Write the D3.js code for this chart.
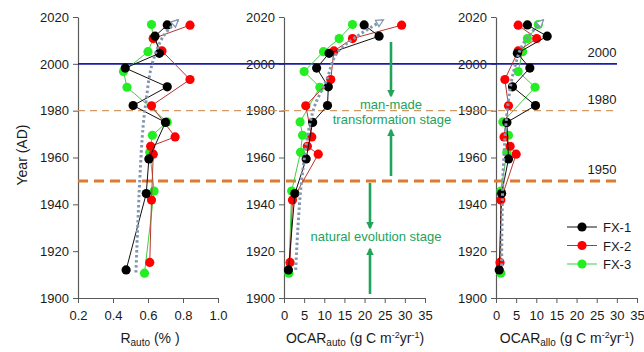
<!DOCTYPE html>
<html>
<head>
<meta charset="utf-8">
<script src="https://cdn.jsdelivr.net/npm/d3@7"></script>
<style>
  html, body { margin: 0; padding: 0; background: #fff; }
  svg { display: block; font-family: "Liberation Sans", Arial, sans-serif; }
</style>
</head>
<body>
<svg id="chart" width="644" height="352"></svg>
<script>
// Sampling years of each core (AD), shared by all three panels
const yearsFX1 = [2016.6, 2011.8, 2004.5, 1998.2, 1990.2, 1982.2, 1975.0, 1959.4, 1944.6, 1912.0];
const yearsFX2 = [2016.5, 2010.8, 2005.5, 1993.3, 1982.1, 1968.8, 1964.8, 1961.4, 1941.8, 1915.2];
const yearsFX3 = [2016.8, 2010.8, 2005.2, 1996.7, 1990.0, 1975.2, 1969.5, 1962.2, 1945.7, 1910.6];

// R_auto (%)
const rautoFX1 = [0.71, 0.64, 0.665, 0.47, 0.71, 0.515, 0.70, 0.605, 0.59, 0.475];
const rautoFX2 = [0.84, 0.63, 0.68, 0.84, 0.62, 0.755, 0.615, 0.63, 0.62, 0.61];
const rautoFX3 = [0.62, 0.63, 0.60, 0.46, 0.48, 0.71, 0.625, 0.61, 0.635, 0.58];

// OCAR_auto (g C m-2 yr-1)
const autoFX1 = [19.9, 23.6, 11.2, 8.1, 11.0, 10.8, 7.1, 5.5, 2.7, 1.1];
const autoFX2 = [29.2, 17.0, 12.4, 11.6, 5.4, 6.9, 5.8, 8.5, 2.1, 1.5];
const autoFX3 = [17.0, 13.7, 9.8, 5.0, 8.9, 4.0, 4.6, 4.1, 1.9, 1.2];

// OCAR_allo (g C m-2 yr-1)
const alloFX1 = [7.8, 12.7, 5.3, 8.4, 4.1, 9.8, 2.7, 3.1, 1.4, 0.8];
const alloFX2 = [5.5, 10.1, 5.5, 2.2, 3.1, 2.0, 3.5, 5.0, 1.2, 1.0];
const alloFX3 = [10.5, 7.8, 6.6, 5.5, 9.7, 1.7, 3.1, 2.7, 1.2, 1.2];

// Hand-drawn trend curves
const trendRautoYears = [1910.9, 1950.6, 1973.3, 1984.7, 1998.9, 2011.6, 2018.7];
const trendRautoVals  = [0.531, 0.553, 0.572, 0.590, 0.620, 0.686, 0.772];
const trendAutoYears  = [1912.0, 1950.6, 1980.4, 1993.2, 2004.6, 2011.6, 2018.7];
const trendAutoVals   = [2.9, 4.4, 7.3, 10.6, 13.1, 18.0, 24.6];
const trendAlloYears  = [1913.7, 1955.0, 1984.7, 1998.9, 2008.8, 2018.7];
const trendAlloVals   = [1.4, 1.8, 3.1, 4.7, 6.8, 11.7];

// Axis ticks
const yearTicks = [1900, 1920, 1940, 1960, 1980, 2000, 2020];
const rautoTicks = [0.2, 0.4, 0.6, 0.8, 1.0];
const ocarTicks = [0, 5, 10, 15, 20, 25, 30, 35];

// Reference years
const refYears = [2000, 1980, 1950];
const seriesNames = ["FX-1", "FX-2", "FX-3"];

const svg = d3.select("#chart");
const y = d3.scaleLinear().domain([1900, 2020]).range([298, 17]);

const xR = d3.scaleLinear().domain([0.2, 1.0]).range([78, 218]);
const xA = d3.scaleLinear().domain([0, 35]).range([284, 425]);
const xL = d3.scaleLinear().domain([0, 35]).range([496, 637]);

const axisColor = "#5a5a5a";
const colors = {
  "FX-1": { fill: "#000000", line: "#111111" },
  "FX-2": { fill: "#ff0000", line: "#b9362e" },
  "FX-3": { fill: "#22ee22", line: "#3fcf3f" }
};

function styleAxis(g) {
  g.selectAll("path.domain").attr("stroke", axisColor).attr("stroke-width", 1.2);
  g.selectAll(".tick line").attr("stroke", axisColor).attr("stroke-width", 1);
  g.selectAll(".tick text").attr("fill", "#1a1a1a").attr("font-size", 13)
    .attr("font-family", "Liberation Sans, Arial, sans-serif");
}

// Axes for three panels
[[xR, rautoTicks, d3.format(".1f")], [xA, ocarTicks, d3.format("d")], [xL, ocarTicks, d3.format("d")]]
  .forEach(([xs, ticks, fmt]) => {
    const gy = svg.append("g").attr("transform", `translate(${xs.range()[0]},0)`)
      .call(d3.axisLeft(y).tickValues(yearTicks).tickFormat(d3.format("d")).tickSize(5).tickSizeOuter(0).tickPadding(4));
    styleAxis(gy);
    const gx = svg.append("g").attr("transform", `translate(0,${y(1900)})`)
      .call(d3.axisBottom(xs).tickValues(ticks).tickFormat(fmt).tickSize(5).tickSizeOuter(0).tickPadding(8));
    styleAxis(gx);
  });

// Reference lines spanning all panels
const refX0 = 78, refX1 = 617;
svg.append("line").attr("x1", refX0).attr("x2", refX1).attr("y1", y(2000)).attr("y2", y(2000))
  .attr("stroke", "#1c1ca8").attr("stroke-width", 1.6);
svg.append("line").attr("x1", refX0).attr("x2", refX1).attr("y1", y(1980)).attr("y2", y(1980))
  .attr("stroke", "#d39a68").attr("stroke-width", 1.4).attr("stroke-dasharray", "7,5");
svg.append("line").attr("x1", refX0).attr("x2", refX1).attr("y1", y(1950)).attr("y2", y(1950))
  .attr("stroke", "#e07a33").attr("stroke-width", 3).attr("stroke-dasharray", "10,6");

refYears.forEach(yr => {
  svg.append("text").attr("x", 602).attr("y", y(yr) - 7).attr("text-anchor", "middle")
    .attr("font-size", 13).attr("fill", "#1a1a1a").text(yr);
});

// Stage annotations
const stageColor = "#22a35b";
const defs = svg.append("defs");
defs.append("marker").attr("id", "stageHead")
  .attr("viewBox", "0 0 10 10").attr("refX", 8).attr("refY", 5)
  .attr("markerWidth", 3).attr("markerHeight", 3).attr("orient", "auto")
  .append("path").attr("d", "M0,0 L10,5 L0,10 Z").attr("fill", stageColor);

function stageArrow(x, yFrom, yTo) {
  svg.append("line").attr("x1", x).attr("x2", x).attr("y1", yFrom).attr("y2", yTo)
    .attr("stroke", stageColor).attr("stroke-width", 2.6).attr("marker-end", "url(#stageHead)");
}
stageArrow(391, 42, 96);
stageArrow(391, 176, 130);
stageArrow(370, 183, 228);
stageArrow(370, 294, 249);

svg.append("text").attr("x", 391).attr("y", 109).attr("text-anchor", "middle")
  .attr("font-size", 13).attr("fill", stageColor).text("man-made");
svg.append("text").attr("x", 392).attr("y", 124).attr("text-anchor", "middle")
  .attr("font-size", 13).attr("fill", stageColor).text("transformation stage");
svg.append("text").attr("x", 376).attr("y", 241).attr("text-anchor", "middle")
  .attr("font-size", 13).attr("fill", stageColor).text("natural evolution stage");

// Data series
const panels = [
  { x: xR, series: { "FX-1": rautoFX1, "FX-2": rautoFX2, "FX-3": rautoFX3 } },
  { x: xA, series: { "FX-1": autoFX1, "FX-2": autoFX2, "FX-3": autoFX3 } },
  { x: xL, series: { "FX-1": alloFX1, "FX-2": alloFX2, "FX-3": alloFX3 } }
];
const yearsOf = { "FX-1": yearsFX1, "FX-2": yearsFX2, "FX-3": yearsFX3 };
const drawOrder = ["FX-3", "FX-2", "FX-1"];

panels.forEach(p => {
  drawOrder.forEach(name => {
    const pts = yearsOf[name].map((yr, i) => ({ yr, v: p.series[name][i] }));
    const line = d3.line().x(d => p.x(d.v)).y(d => y(d.yr));
    svg.append("path").datum(pts).attr("d", line).attr("fill", "none")
      .attr("stroke", colors[name].line).attr("stroke-width", 1);
    svg.append("g").selectAll("circle").data(pts).join("circle")
      .attr("cx", d => p.x(d.v)).attr("cy", d => y(d.yr)).attr("r", 4.6)
      .attr("fill", colors[name].fill);
  });
});

// Trend curves with open triangular arrowheads
const trendColor = "#8497b0";
defs.append("marker").attr("id", "trendHead")
  .attr("viewBox", "0 0 12 12").attr("refX", 10).attr("refY", 6)
  .attr("markerWidth", 3.2).attr("markerHeight", 3.2).attr("orient", "auto")
  .attr("markerUnits", "strokeWidth")
  .append("path").attr("d", "M1.5,1.5 L10.5,6 L1.5,10.5 Z").attr("fill", "#ffffff")
  .attr("stroke", trendColor).attr("stroke-width", 1.6).attr("stroke-linejoin", "miter");

[[xR, trendRautoYears, trendRautoVals], [xA, trendAutoYears, trendAutoVals], [xL, trendAlloYears, trendAlloVals]]
  .forEach(([xs, yrs, vals]) => {
    const pts = yrs.map((yr, i) => ({ yr, v: vals[i] }));
    const line = d3.line().x(d => xs(d.v)).y(d => y(d.yr)).curve(d3.curveCatmullRom.alpha(0.5));
    svg.append("path").datum(pts).attr("d", line).attr("fill", "none")
      .attr("stroke", trendColor).attr("stroke-width", 3).attr("stroke-dasharray", "2.5,2.5")
      .attr("marker-end", "url(#trendHead)");
  });

// Legend
seriesNames.forEach((name, i) => {
  const ly = 227 + i * 18.5;
  svg.append("line").attr("x1", 567).attr("x2", 597).attr("y1", ly).attr("y2", ly)
    .attr("stroke", colors[name].line).attr("stroke-width", 1);
  svg.append("circle").attr("cx", 582).attr("cy", ly).attr("r", 4.6).attr("fill", colors[name].fill);
  svg.append("text").attr("x", 603).attr("y", ly + 5).attr("font-size", 13).attr("fill", "#1a1a1a").text(name);
});

// Axis titles
svg.append("text").attr("transform", "translate(27,155) rotate(-90)").attr("text-anchor", "middle")
  .attr("font-size", 14).attr("fill", "#1a1a1a").text("Year (AD)");

function ocarTitle(cx, sub) {
  const t = svg.append("text").attr("x", cx).attr("y", 343).attr("text-anchor", "middle")
    .attr("font-size", 14).attr("fill", "#1a1a1a");
  t.append("tspan").text("OCAR");
  t.append("tspan").attr("font-size", 10).attr("dy", 3).text(sub);
  t.append("tspan").attr("dy", -3).text(" (g C m");
  t.append("tspan").attr("font-size", 9).attr("dy", -5).text("-2");
  t.append("tspan").attr("dy", 5).text("yr");
  t.append("tspan").attr("font-size", 9).attr("dy", -5).text("-1");
  t.append("tspan").attr("dy", 5).text(")");
}
const rt = svg.append("text").attr("x", 150).attr("y", 343).attr("text-anchor", "middle")
  .attr("font-size", 14).attr("fill", "#1a1a1a");
rt.append("tspan").text("R");
rt.append("tspan").attr("font-size", 10).attr("dy", 3).text("auto");
rt.append("tspan").attr("dy", -3).text(" (% )");
ocarTitle(355, "auto");
ocarTitle(567, "allo");
</script>
</body>
</html>
